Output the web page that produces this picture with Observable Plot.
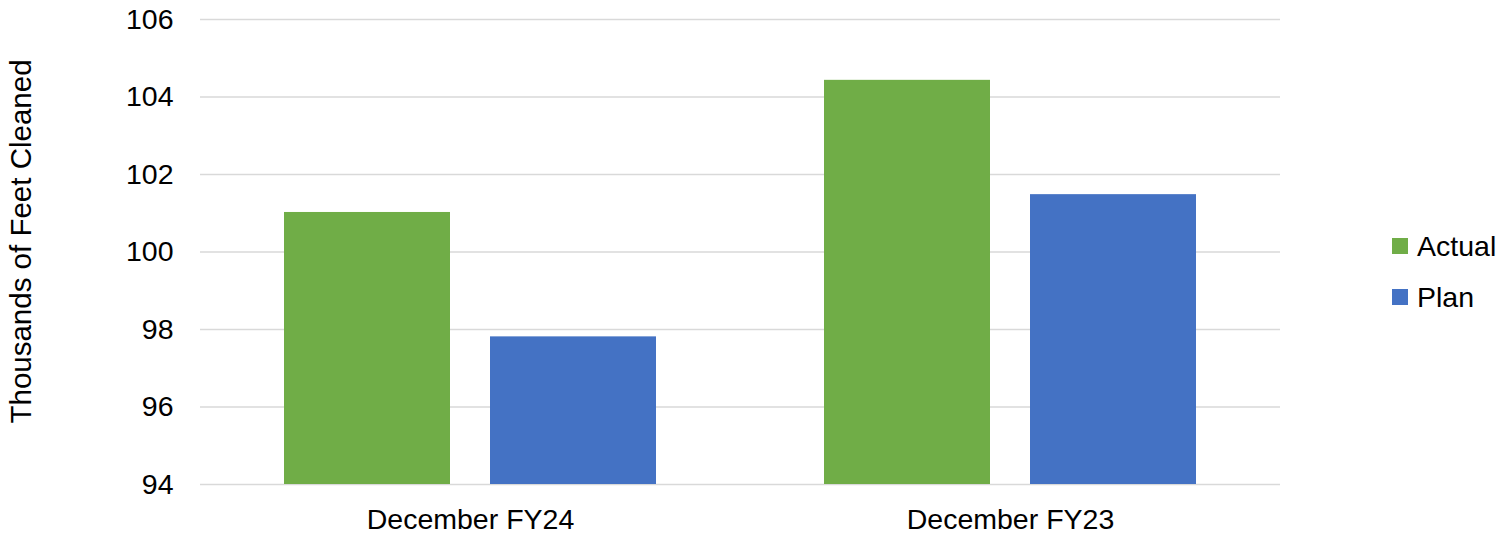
<!DOCTYPE html>
<html><head><meta charset="utf-8">
<script src="https://cdn.jsdelivr.net/npm/d3@7"></script>
<script src="https://cdn.jsdelivr.net/npm/@observablehq/plot@0.6"></script>
<style>
body{margin:0;background:#fff;font-family:"Liberation Sans",Arial,sans-serif;}
#wrap{position:relative;width:1512px;height:537px;}
.item{position:absolute;left:1392px;height:30px;display:flex;align-items:center;font-size:28.5px;color:#000;line-height:30px;}
.sw{width:16px;height:16px;margin-right:9px;}
</style></head><body><div id="wrap"></div>
<script>
const categories = ["December FY24", "December FY23"];
const series = ["Actual", "Plan"];
const actual = [101.02, 104.43];
const plan = [97.81, 101.48];
const yTicks = [94, 96, 98, 100, 102, 104, 106];
const colors = ["#70ad47", "#4472c4"];
const yTitle = "Thousands of Feet Cleaned";

const data = categories.flatMap((c, i) => [
  {category: c, series: series[0], value: actual[i]},
  {category: c, series: series[1], value: plan[i]}
]);
const base = yTicks[0];

const chart = Plot.plot({
  width: 1512, height: 537,
  marginLeft: 200, marginRight: 232, marginTop: 19, marginBottom: 53,
  style: {fontFamily: '"Liberation Sans", Arial, sans-serif', fontSize: "28.5px", color: "#000", background: "#fff", overflow: "visible"},
  fx: {domain: categories, padding: 0, label: null, tickSize: 0, tickPadding: 24},
  x: {domain: series, paddingInner: 0.193, paddingOuter: 0.401, axis: null},
  y: {domain: [yTicks[0], yTicks[yTicks.length - 1]], ticks: yTicks, tickSize: 0, tickPadding: 27, label: null},
  color: {domain: series, range: colors},
  marks: [
    Plot.gridY(yTicks, {stroke: "#d9d9d9", strokeOpacity: 1, strokeWidth: 1.5}),
    Plot.barY(data, {fx: "category", x: "series", y1: () => base, y2: "value", fill: "series"}),
    Plot.text([yTitle], {fx: () => categories[0], text: d => d, frameAnchor: "left", textAnchor: "middle", dx: -178.5, dy: -10.5, rotate: -90, fill: "#000", fontSize: 29.5})
  ]
});
const wrap = document.getElementById("wrap");
wrap.appendChild(chart);
series.forEach((s, i) => {
  const it = document.createElement("div");
  it.className = "item";
  it.style.top = (231 + i * 51) + "px";
  const sw = document.createElement("div");
  sw.className = "sw";
  sw.style.background = colors[i];
  it.appendChild(sw);
  const t = document.createElement("span");
  t.textContent = s;
  it.appendChild(t);
  wrap.appendChild(it);
});
</script>
</body></html>
